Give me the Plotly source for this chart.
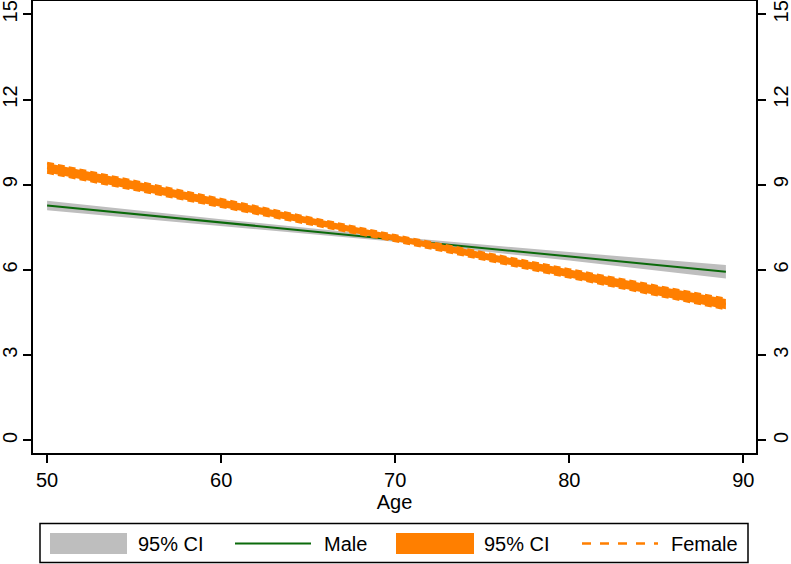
import plotly.graph_objects as go

# ---- data ----
ages = [50, 60, 70, 80, 89]
male = [8.27, 7.67, 7.08, 6.48, 5.94]
male_lo = [8.10, 7.55, 6.99, 6.33, 5.70]
male_hi = [8.44, 7.79, 7.17, 6.63, 6.18]
female = [9.60, 8.36, 7.12, 5.88, 4.80]
female_lo = [9.43, 8.22, 7.02, 5.74, 4.62]
female_hi = [9.77, 8.50, 7.22, 6.02, 4.98]

y_ticks = [0, 3, 6, 9, 12, 15]
x_ticks = [50, 60, 70, 80, 90]
legend_labels = ["95% CI", "Male", "95% CI", "Female"]

GREEN = "#0b6a0b"
ORANGE = "#ff7f00"
GRAY = "#bebebe"
FONT = "Arial, Liberation Sans, Helvetica, sans-serif"

W, H = 791, 564
ML, MR, MT, MB = 33, 35, 1, 111
PW = W - ML - MR
PH = H - MT - MB


def px(x):
    return (x - ML) / PW


def py(y):
    return (H - MB - y) / PH


fig = go.Figure()

# male CI band
fig.add_trace(go.Scatter(x=ages, y=male_hi, mode="lines", line=dict(width=0, color=GRAY),
                         showlegend=False, hoverinfo="skip"))
fig.add_trace(go.Scatter(x=ages, y=male_lo, mode="lines", line=dict(width=0, color=GRAY),
                         fill="tonexty", fillcolor=GRAY, showlegend=False, hoverinfo="skip"))
# male line
fig.add_trace(go.Scatter(x=ages, y=male, mode="lines", line=dict(width=2, color=GREEN),
                         showlegend=False))
# female CI band
fig.add_trace(go.Scatter(x=ages, y=female_hi, mode="lines", line=dict(width=2.5, color=ORANGE, dash="7px,4px"),
                         showlegend=False, hoverinfo="skip"))
fig.add_trace(go.Scatter(x=ages, y=female_lo, mode="lines", line=dict(width=2.5, color=ORANGE, dash="7px,4px"),
                         fill="tonexty", fillcolor=ORANGE, showlegend=False, hoverinfo="skip"))
# female line
fig.add_trace(go.Scatter(x=ages, y=female, mode="lines", line=dict(width=2.5, color=ORANGE, dash="dash"),
                         showlegend=False))
# dummy trace on right axis
fig.add_trace(go.Scatter(x=[ages[0]], y=[male[0]], yaxis="y2", mode="markers",
                         marker=dict(opacity=0), showlegend=False, hoverinfo="skip"))

axis_common = dict(showgrid=False, zeroline=False, showline=True, linecolor="black", linewidth=1.5,
                   ticks="outside", ticklen=8, tickwidth=1.5, tickcolor="black", automargin=False,
                   tickfont=dict(family=FONT, size=20, color="black"))

fig.update_layout(
    width=W, height=H,
    margin=dict(l=ML, r=MR, t=MT, b=MB),
    paper_bgcolor="white", plot_bgcolor="white",
    showlegend=False,
    xaxis=dict(range=[49.19, 90.73], tickvals=x_ticks, mirror=True, **axis_common,
               title=dict(text="Age", font=dict(family=FONT, size=20, color="black"), standoff=4)),
    yaxis=dict(range=[-0.443, 15.47], tickvals=y_ticks, tickangle=-90, ticklabelstandoff=-2,
               **axis_common),
    yaxis2=dict(range=[-0.443, 15.47], tickvals=y_ticks, tickangle=-90, overlaying="y", side="right",
                ticklabelstandoff=-2, **axis_common),
)

# ---- legend drawn manually ----
shapes = []
annotations = []
shapes.append(dict(type="rect", xref="paper", yref="paper", x0=px(40), x1=px(748), y0=py(523.5), y1=py(562.5),
                   line=dict(color="black", width=1.5), fillcolor="white"))
shapes.append(dict(type="rect", xref="paper", yref="paper", x0=px(50), x1=px(127), y0=py(533), y1=py(554),
                   line=dict(width=0), fillcolor=GRAY))
shapes.append(dict(type="line", xref="paper", yref="paper", x0=px(235), x1=px(311), y0=py(543.5), y1=py(543.5),
                   line=dict(color=GREEN, width=2)))
shapes.append(dict(type="rect", xref="paper", yref="paper", x0=px(396), x1=px(474), y0=py(533), y1=py(554),
                   line=dict(width=0), fillcolor=ORANGE))
shapes.append(dict(type="line", xref="paper", yref="paper", x0=px(582), x1=px(658), y0=py(543.5), y1=py(543.5),
                   line=dict(color=ORANGE, width=2.5, dash="dash")))
for xl, txt in zip([136, 322, 482, 669], legend_labels):
    annotations.append(dict(xref="paper", yref="paper", x=px(xl), y=py(544), xanchor="left", yanchor="middle",
                            text=txt, showarrow=False, font=dict(family=FONT, size=20, color="black")))

fig.update_layout(shapes=shapes, annotations=annotations)

fig.write_html("out.html", config={"displayModeBar": False},
               post_script="document.body.style.margin='0';document.body.style.overflow='hidden';")
